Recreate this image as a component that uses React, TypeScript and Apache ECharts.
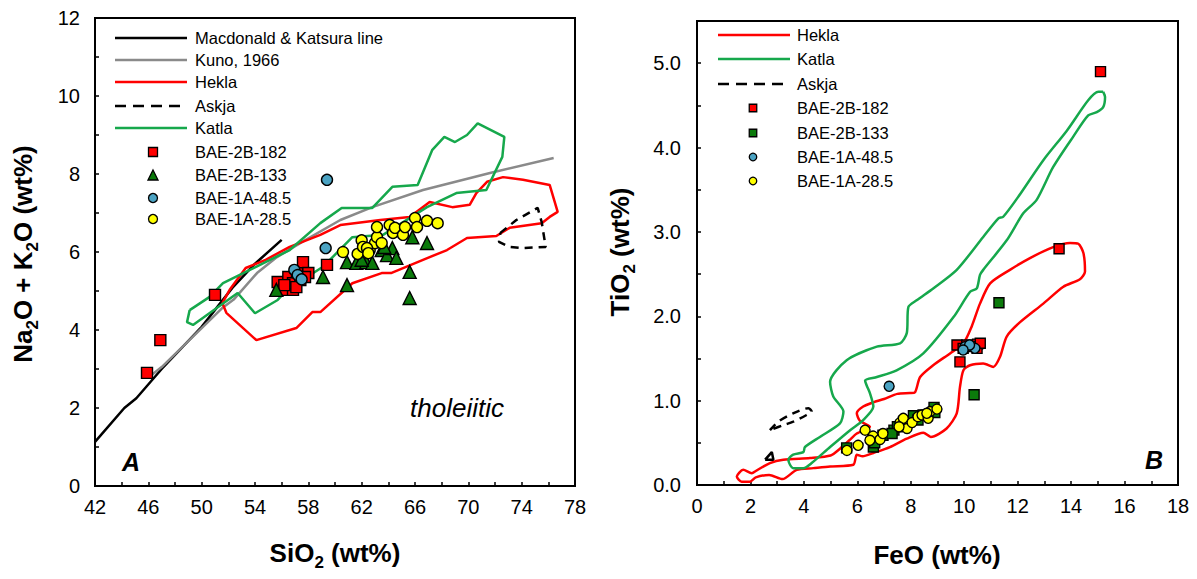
import React, { useEffect, useRef } from "react";
import * as echarts from "echarts";

const FONT = '"Liberation Sans", Arial, Helvetica, sans-serif';

// ---------- Panel A: SiO2 vs Na2O+K2O ----------
const macdonaldKatsuraA = [[42, 1.13], [44.2, 2.0], [45.1, 2.25], [47, 3.0], [50, 4.08], [52.3, 5.08], [54, 5.7], [56, 6.31]];
const kunoA = [[45.96, 2.77], [47, 3.05], [48.5, 3.55], [50, 4.05], [51.5, 4.55], [52.4, 4.78], [54.15, 5.46], [55.65, 5.87], [57.8, 6.31], [60.4, 6.82], [62.8, 7.15], [66.6, 7.59], [71.7, 8.03], [76.4, 8.41]];
const heklaA = [[51.55, 4.69], [51.85, 4.44], [54.1, 3.74], [57.1, 4.05], [58.3, 4.46], [58.9, 4.46], [61.3, 5.2], [63.5, 5.46], [64.2, 5.46], [66.6, 5.8], [68.4, 6.05], [69.9, 6.36], [72.1, 6.41], [73.1, 6.62], [75.5, 6.74], [76.1, 6.9], [76.7, 7.03], [76.1, 7.72], [74.1, 7.85], [72.6, 7.92], [71.4, 7.8], [70.6, 7.51], [70.1, 7.21], [68.8, 7.15], [67.1, 7.28], [65.6, 6.9], [63.4, 6.82], [60.4, 6.69], [58.9, 6.44], [56.6, 6.13], [54.8, 5.8], [53.3, 5.59], [52.1, 5.03], [51.55, 4.69]];
const askjaA = [[72.4, 6.49], [73.6, 6.82], [75.2, 7.13], [75.5, 6.77], [75.8, 6.13], [74.1, 6.1], [73.1, 6.13], [72.3, 6.26], [72.4, 6.49]];
const katlaA = [[49.1, 4.51], [50.6, 4.85], [51.6, 5.2], [56.6, 6.05], [58.9, 6.74], [60.5, 7.13], [62.8, 7.13], [64.3, 7.67], [66.2, 7.72], [67.3, 8.62], [68.2, 8.95], [69.0, 8.82], [69.9, 9.0], [70.7, 9.3], [72.7, 8.95], [72.55, 8.44], [71.35, 7.59], [69.1, 7.51], [66.9, 7.15], [63.6, 6.44], [61.3, 6.38], [59.1, 5.62], [56.4, 5.03], [55.7, 4.77], [54.0, 4.43], [52.7, 4.95], [49.35, 4.13], [48.9, 4.2], [49.1, 4.51]];
const bae2b182A = [[45.9, 2.9], [46.9, 3.74], [51.0, 4.9], [59.4, 5.67], [55.7, 5.23], [56.25, 5.03], [56.85, 5.03], [56.5, 5.36], [57.15, 5.46], [57.6, 5.74], [58.0, 5.46], [56.85, 5.2], [57.4, 5.28], [57.75, 5.36], [56.2, 5.15], [57.1, 5.1]];
const bae2b133A = [[55.6, 5.03], [59.1, 5.36], [60.9, 5.15], [60.9, 5.74], [61.6, 5.72], [62.35, 5.74], [62.8, 5.72], [63.5, 6.05], [63.9, 5.92], [64.3, 6.1], [64.6, 5.85], [65.8, 6.38], [66.9, 6.23], [65.6, 5.49], [65.6, 4.82], [63.7, 6.13], [62.0, 5.8]];
const bae1a485A = [[59.4, 7.85], [59.3, 6.1], [56.95, 5.54], [57.2, 5.41], [57.5, 5.3]];
const bae1a285A = [[60.6, 6.0], [61.7, 5.95], [62.0, 6.3], [62.1, 6.13], [62.6, 6.05], [63.0, 6.23], [63.15, 6.38], [63.15, 6.64], [64.1, 6.69], [64.35, 6.49], [64.5, 6.62], [65.1, 6.44], [65.25, 6.64], [66.0, 6.87], [66.15, 6.64], [66.9, 6.8], [67.7, 6.74], [63.5, 6.23], [62.4, 6.1], [62.5, 5.97]];

// ---------- Panel B: FeO vs TiO2 ----------
const heklaB = [[2.17, 0.16], [2.73, 0.26], [3.23, 0.3], [4.23, 0.32], [5.0, 0.35], [5.35, 0.43], [5.7, 0.53], [5.98, 0.61], [6.47, 0.69], [6.1, 0.76], [5.98, 0.85], [6.22, 0.93], [6.6, 0.98], [7.0, 1.02], [7.5, 1.08], [7.97, 1.09], [8.16, 1.1], [8.35, 1.28], [8.84, 1.42], [9.47, 1.56], [9.97, 1.68], [10.28, 1.88], [10.59, 2.15], [10.97, 2.39], [11.71, 2.55], [12.46, 2.69], [13.33, 2.82], [13.96, 2.87], [14.27, 2.86], [14.46, 2.75], [14.52, 2.53], [14.33, 2.44], [13.71, 2.35], [12.96, 2.15], [12.09, 1.93], [11.59, 1.76], [11.34, 1.52], [11.09, 1.4], [10.71, 1.44], [10.22, 1.42], [9.97, 1.36], [9.84, 1.16], [9.72, 0.85], [9.34, 0.67], [8.75, 0.57], [8.47, 0.62], [7.85, 0.55], [7.22, 0.45], [6.6, 0.38], [6.2, 0.34], [5.98, 0.36], [5.85, 0.24], [4.98, 0.22], [4.35, 0.2], [3.73, 0.18], [3.2, 0.07], [2.7, 0.12], [2.2, 0.09], [1.98, 0.04], [1.67, 0.04], [1.49, 0.1], [1.73, 0.18], [2.05, 0.14], [2.17, 0.16]];
const katlaB = [[15.2, 4.66], [15.02, 4.66], [14.64, 4.56], [13.84, 4.2], [12.96, 3.85], [12.03, 3.42], [11.46, 3.18], [11.28, 3.16], [10.71, 2.94], [9.72, 2.55], [8.84, 2.33], [8.22, 2.19], [7.91, 2.11], [7.85, 1.8], [7.6, 1.68], [6.73, 1.64], [5.6, 1.48], [4.98, 1.22], [5.1, 1.05], [5.48, 0.87], [5.35, 0.73], [4.6, 0.57], [4.04, 0.45], [3.98, 0.39], [3.6, 0.36], [3.42, 0.3], [3.48, 0.24], [3.6, 0.2], [3.98, 0.2], [4.29, 0.26], [4.98, 0.45], [5.73, 0.65], [6.22, 0.77], [6.6, 0.93], [6.47, 1.09], [6.35, 1.18], [6.29, 1.24], [6.73, 1.28], [7.47, 1.36], [8.47, 1.56], [9.6, 1.99], [10.22, 2.29], [10.47, 2.33], [10.59, 2.49], [10.71, 2.55], [11.59, 2.9], [12.21, 3.22], [12.71, 3.38], [13.33, 3.77], [14.08, 4.13], [14.64, 4.38], [14.96, 4.42], [15.2, 4.48], [15.27, 4.6], [15.2, 4.66]];
const askjaB = [[2.73, 0.65], [3.04, 0.75], [3.6, 0.85], [4.17, 0.91], [4.29, 0.87], [4.1, 0.83], [3.6, 0.75], [3.23, 0.71], [2.73, 0.65]];
const askjaSmallB = [[2.55, 0.3], [2.8, 0.39], [2.86, 0.3], [2.55, 0.3]];
const bae2b182B = [[15.1, 4.9], [13.55, 2.8], [9.84, 1.46], [9.73, 1.66], [10.1, 1.66], [10.5, 1.67], [9.96, 1.62], [10.48, 1.62], [10.3, 1.64], [10.6, 1.68]];
const bae2b133B = [[11.3, 2.16], [10.37, 1.07], [5.6, 0.44], [6.6, 0.45], [6.96, 0.59], [7.37, 0.65], [7.5, 0.69], [8.1, 0.82], [8.46, 0.83], [8.87, 0.92], [8.9, 0.86], [8.27, 0.77], [7.3, 0.61], [6.65, 0.5]];
const bae1a485B = [[7.19, 1.17], [10.03, 1.64], [10.4, 1.62], [10.2, 1.66], [9.96, 1.6]];
const bae1a285B = [[5.61, 0.41], [6.03, 0.47], [6.29, 0.65], [6.59, 0.58], [6.47, 0.53], [6.85, 0.54], [6.96, 0.61], [7.6, 0.74], [7.72, 0.79], [7.86, 0.67], [8.05, 0.74], [8.27, 0.81], [8.42, 0.83], [8.65, 0.79], [8.72, 0.87], [8.98, 0.9], [8.6, 0.85], [7.56, 0.69]];

const RED = "#ff0000";
const GREEN_LINE = "#16a84c";
const GRAY = "#8a8a8a";
const SQ_GREEN = "#0b7a0b";
const BLUE = "#4ba3c3";
const YELLOW = "#ffff00";

function lineS(name: string, data: number[][], idx: number, color: string, opts: any = {}) {
  return {
    type: "line",
    name,
    data,
    xAxisIndex: idx,
    yAxisIndex: idx,
    symbol: "none",
    showSymbol: false,
    silent: true,
    smooth: opts.smooth || false,
    lineStyle: { color, width: opts.width || 2.5, type: opts.dash ? [8, 6] : "solid" },
    z: 2,
  };
}

function scatterS(name: string, data: number[][], idx: number, symbol: string, size: number, color: string) {
  return {
    type: "scatter",
    name,
    data,
    xAxisIndex: idx,
    yAxisIndex: idx,
    symbol,
    symbolSize: size,
    silent: true,
    itemStyle: { color, borderColor: "#000", borderWidth: 1.4, opacity: 1 },
    z: 3,
  };
}

function axisCommon(min: number, max: number, interval: number, fmt: (v: number) => string, margin: number) {
  return {
    type: "value",
    min,
    max,
    interval,
    splitLine: { show: false },
    axisLine: { show: true, onZero: false, lineStyle: { color: "#000", width: 2 } },
    axisTick: { show: true, inside: true, length: 4, lineStyle: { color: "#000", width: 1.5 } },
    axisLabel: { color: "#000", fontSize: 20, fontFamily: FONT, margin, formatter: fmt, showMaxLabel: true, showMinLabel: true },
  };
}

const isMult = (v: number, m: number) => Math.abs(v / m - Math.round(v / m)) < 1e-6;

function legendGraphics(lineX1: number, lineX2: number, markerX: number, textX: number, items: any[], mSize: number) {
  const els: any[] = [];
  items.forEach((it) => {
    if (it.kind === "line") {
      els.push({
        type: "line",
        shape: { x1: lineX1, y1: it.y, x2: lineX2, y2: it.y },
        style: { stroke: it.color, lineWidth: 2.5, lineDash: it.dash ? [11, 7] : null },
        silent: true,
      });
    } else if (it.kind === "rect") {
      els.push({
        type: "rect",
        shape: { x: markerX - mSize / 2, y: it.y - mSize / 2, width: mSize, height: mSize },
        style: { fill: it.color, stroke: "#000", lineWidth: 1.3 },
        silent: true,
      });
    } else if (it.kind === "triangle") {
      const s = mSize + 1;
      els.push({
        type: "polygon",
        shape: { points: [[markerX, it.y - s / 2], [markerX + s / 2, it.y + s / 2], [markerX - s / 2, it.y + s / 2]] },
        style: { fill: it.color, stroke: "#000", lineWidth: 1.3 },
        silent: true,
      });
    } else if (it.kind === "circle") {
      els.push({
        type: "circle",
        shape: { cx: markerX, cy: it.y, r: mSize / 2 },
        style: { fill: it.color, stroke: "#000", lineWidth: 1.3 },
        silent: true,
      });
    }
    els.push({
      type: "text",
      x: textX,
      y: it.y,
      style: {
        text: it.label,
        fontSize: 16.5,
        fontFamily: FONT,
        fill: "#000",
        textAlign: "left",
        textVerticalAlign: "middle",
        verticalAlign: "middle",
      },
      silent: true,
    });
  });
  return els;
}

const titleRich = {
  b: { fontSize: 26, fontWeight: "bold", fontFamily: FONT, color: "#000", lineHeight: 35 },
  s: { fontSize: 17, fontWeight: "bold", fontFamily: FONT, color: "#000", lineHeight: 17, verticalAlign: "bottom" },
};

function titleText(text: string, x: number, y: number, rotate: boolean) {
  return {
    type: "text",
    x,
    y,
    rotation: rotate ? Math.PI / 2 : 0,
    silent: true,
    style: {
      text,
      rich: titleRich,
      fill: "#000",
      textAlign: "center",
      textVerticalAlign: "middle",
      align: "center",
      verticalAlign: "middle",
    },
  };
}

export default function App() {
  const ref = useRef<HTMLDivElement>(null);
  useEffect(() => {
    document.body.style.margin = "0";
    const chart = echarts.init(ref.current!, null, { renderer: "svg" });
    const option: any = {
      animation: false,
      backgroundColor: "#fff",
      grid: [
        { left: 95, top: 18, right: 622, bottom: 93, show: true, borderColor: "#000", borderWidth: 2, backgroundColor: "transparent" },
        { left: 697, top: 21, right: 19, bottom: 94, show: true, borderColor: "#000", borderWidth: 2, backgroundColor: "transparent" },
      ],
      xAxis: [
        { ...axisCommon(42, 78, 2, (v: number) => (isMult(v - 42, 4) ? String(v) : ""), 11), gridIndex: 0 },
        { ...axisCommon(0, 18, 1, (v: number) => (isMult(v, 2) ? String(v) : ""), 11), gridIndex: 1 },
      ],
      yAxis: [
        { ...axisCommon(0, 12, 1, (v: number) => (isMult(v, 2) ? String(v) : ""), 15), gridIndex: 0 },
        { ...axisCommon(0, 5.5, 0.5, (v: number) => (isMult(v, 1) && v < 5.2 ? v.toFixed(1) : ""), 16), gridIndex: 1 },
      ],
      series: [
        lineS("Macdonald & Katsura line", macdonaldKatsuraA, 0, "#000"),
        lineS("Kuno, 1966", kunoA, 0, GRAY),
        lineS("Hekla", heklaA, 0, RED),
        lineS("Askja", askjaA, 0, "#000", { dash: true }),
        lineS("Katla", katlaA, 0, GREEN_LINE),
        scatterS("BAE-2B-182", bae2b182A, 0, "rect", 11, RED),
        scatterS("BAE-2B-133", bae2b133A, 0, "triangle", 13, SQ_GREEN),
        scatterS("BAE-1A-48.5", bae1a485A, 0, "circle", 11, BLUE),
        scatterS("BAE-1A-28.5", bae1a285A, 0, "circle", 11, YELLOW),

        lineS("Hekla B", heklaB, 1, RED, { smooth: 0.25 }),
        lineS("Katla B", katlaB, 1, GREEN_LINE, { smooth: 0.25 }),
        lineS("Askja B", askjaB, 1, "#000", { dash: true, smooth: 0.3 }),
        lineS("Askja B small", askjaSmallB, 1, "#000"),
        scatterS("BAE-2B-182 B", bae2b182B, 1, "rect", 10, RED),
        scatterS("BAE-2B-133 B", bae2b133B, 1, "rect", 10, SQ_GREEN),
        scatterS("BAE-1A-48.5 B", bae1a485B, 1, "circle", 10, BLUE),
        scatterS("BAE-1A-28.5 B", bae1a285B, 1, "circle", 10, YELLOW),
      ],
      graphic: [
        ...legendGraphics(115, 187, 153, 195, [
          { kind: "line", y: 38, color: "#000", label: "Macdonald & Katsura line" },
          { kind: "line", y: 60, color: GRAY, label: "Kuno, 1966" },
          { kind: "line", y: 82, color: RED, label: "Hekla" },
          { kind: "line", y: 106, color: "#000", dash: true, label: "Askja" },
          { kind: "line", y: 128, color: GREEN_LINE, label: "Katla" },
          { kind: "rect", y: 152, color: RED, label: "BAE-2B-182" },
          { kind: "triangle", y: 175, color: SQ_GREEN, label: "BAE-2B-133" },
          { kind: "circle", y: 198, color: BLUE, label: "BAE-1A-48.5" },
          { kind: "circle", y: 219, color: YELLOW, label: "BAE-1A-28.5" },
        ], 9),
        ...legendGraphics(718, 790, 753, 797, [
          { kind: "line", y: 35, color: RED, label: "Hekla" },
          { kind: "line", y: 59, color: GREEN_LINE, label: "Katla" },
          { kind: "line", y: 84, color: "#000", dash: true, label: "Askja" },
          { kind: "rect", y: 108, color: RED, label: "BAE-2B-182" },
          { kind: "rect", y: 133, color: SQ_GREEN, label: "BAE-2B-133" },
          { kind: "circle", y: 157, color: BLUE, label: "BAE-1A-48.5" },
          { kind: "circle", y: 181, color: YELLOW, label: "BAE-1A-28.5" },
        ], 7.5),
        titleText("{b|SiO}{s|2}{b| (wt%)}", 335, 553, false),
        titleText("{b|FeO (wt%)}", 937, 555, false),
        titleText("{b|Na}{s|2}{b|O + K}{s|2}{b|O (wt%)}", 23, 254, true),
        titleText("{b|TiO}{s|2}{b| (wt%)}", 620, 252, true),
        {
          type: "text", x: 131, y: 462, silent: true,
          style: { text: "A", fontSize: 25, fontWeight: "bold", fontStyle: "italic", fontFamily: FONT, fill: "#000", textAlign: "center", textVerticalAlign: "middle", verticalAlign: "middle" },
        },
        {
          type: "text", x: 1154, y: 460, silent: true,
          style: { text: "B", fontSize: 25, fontWeight: "bold", fontStyle: "italic", fontFamily: FONT, fill: "#000", textAlign: "center", textVerticalAlign: "middle", verticalAlign: "middle" },
        },
        {
          type: "text", x: 457, y: 408, silent: true,
          style: { text: "tholeiitic", fontSize: 26, fontStyle: "italic", fontFamily: FONT, fill: "#000", textAlign: "center", textVerticalAlign: "middle", verticalAlign: "middle" },
        },
      ],
    };
    chart.setOption(option);
    return () => chart.dispose();
  }, []);
  return <div ref={ref} style={{ width: 1197, height: 579 }} />;
}
